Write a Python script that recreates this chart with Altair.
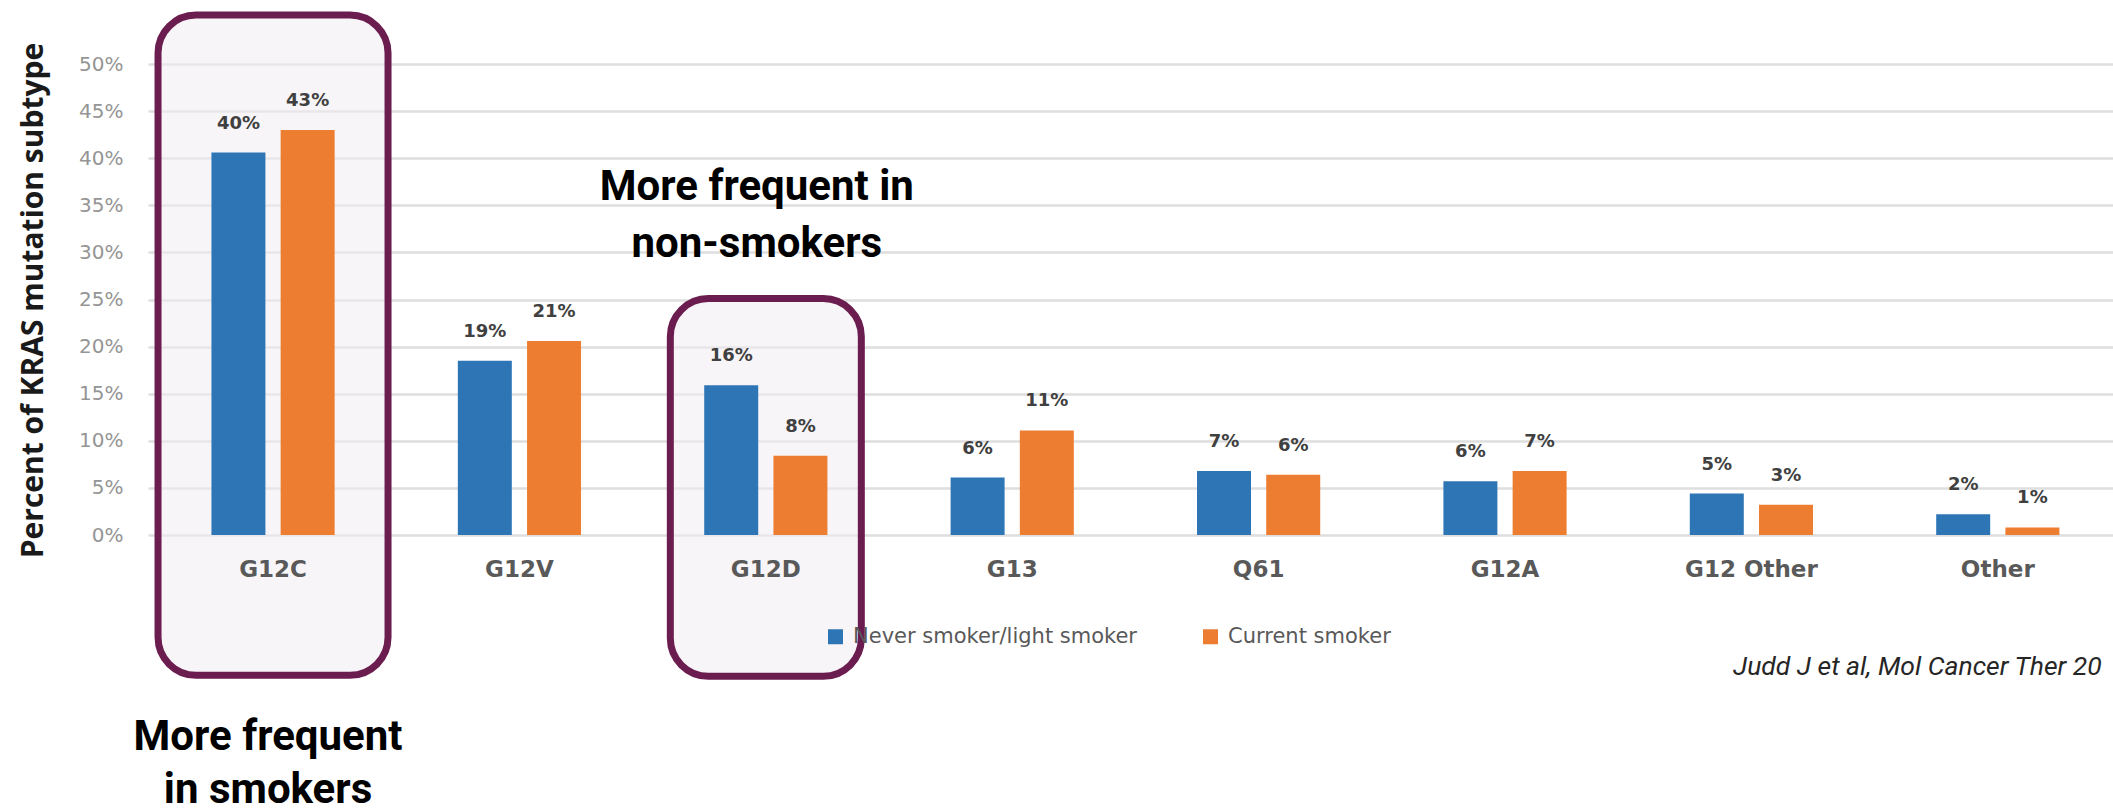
import altair as alt
import pandas as pd

# ---------------- data ----------------
categories = ["G12C", "G12V", "G12D", "G13", "Q61", "G12A", "G12 Other", "Other"]
series = ["Never smoker/light smoker", "Current smoker"]
never_vals = [40.6, 18.5, 15.9, 6.1, 6.8, 5.7, 4.4, 2.2]
current_vals = [43.0, 20.6, 8.4, 11.1, 6.4, 6.8, 3.2, 0.8]
never_labels = ["40%", "19%", "16%", "6%", "7%", "6%", "5%", "2%"]
current_labels = ["43%", "21%", "8%", "11%", "6%", "7%", "3%", "1%"]
y_ticks = [0, 5, 10, 15, 20, 25, 30, 35, 40, 45, 50]
series_colors = ["#2E75B6", "#ED7D31"]

y_title = "Percent of KRAS mutation subtype"
note_smokers = "More frequent\nin smokers"
note_nonsmokers = "More frequent in\nnon-smokers"
citation = "Judd J et al, Mol Cancer Ther 20"

rows = []
for i, c in enumerate(categories):
    rows.append({"cat": c, "group": series[0], "value": never_vals[i], "label": never_labels[i]})
    rows.append({"cat": c, "group": series[1], "value": current_vals[i], "label": current_labels[i]})
df = pd.DataFrame(rows)

# highlight boxes (category, top %, bottom %)
box1 = pd.DataFrame({"cat": ["G12C"], "top": [55.2], "bottom": [-14.9]})
box2 = pd.DataFrame({"cat": ["G12D"], "top": [25.1], "bottom": [-15.0]})
notes1 = pd.DataFrame({"cat": ["G12C"], "y": [-22.8], "t": [note_smokers]})
notes2 = pd.DataFrame({"cat": ["G12D"], "y": [35.56], "t": [note_nonsmokers]})
cite = pd.DataFrame({"t": [citation]})

# ---------------- encodings ----------------
xscale = alt.Scale(paddingInner=0.5, paddingOuter=0.2375, align=0.542)
xaxis = alt.Axis(title=None, domain=False, ticks=False, grid=False, labelPadding=23,
                 labelFont="DejaVu Sans", labelFontWeight="bold", labelFontSize=23,
                 labelColor="#595959", labelAngle=0, zindex=1)
yscale = alt.Scale(domain=[0, 50], nice=False, zero=True)
yaxis = alt.Axis(title=y_title, values=y_ticks, labelExpr="datum.value + '%'",
                 domain=False, ticks=False, labelPadding=25,
                 labelFont="DejaVu Sans", labelFontSize=20, labelColor="#959595",
                 gridColor="#dedede", gridWidth=2.5,
                 titleFont="Open Sans", titleFontWeight="bold", titleFontSize=30,
                 titleColor="#1a1a1a", titleAngle=270, titleAlign="center",
                 titleBaseline="alphabetic", titleX=-106, titleY=236)


def xe():
    return alt.X("cat:N", sort=categories, scale=xscale, axis=xaxis)


def ye(field):
    return alt.Y(field, scale=yscale, axis=yaxis)


xoff = alt.XOffset("group:N", sort=series,
                   scale=alt.Scale(paddingInner=0.22, paddingOuter=0))

box_style = dict(cornerRadius=38, fill="#f1edf0", fillOpacity=0.55,
                 stroke="#6B1D50", strokeWidth=7)

l_box1 = alt.Chart(box1).mark_bar(width=230, **box_style).encode(
    x=xe(), y=ye("top:Q"), y2="bottom:Q")
l_box2 = alt.Chart(box2).mark_bar(width=191, **box_style).encode(
    x=xe(), y=ye("top:Q"), y2="bottom:Q")

bars = alt.Chart(df).mark_bar().encode(
    x=xe(), xOffset=xoff, y=ye("value:Q"),
    color=alt.Color("group:N", sort=series,
                    scale=alt.Scale(domain=series, range=series_colors),
                    legend=alt.Legend(title=None, orient="none", direction="horizontal",
                                      legendX=677, legendY=562,
                                      symbolType="square", symbolSize=225,
                                      symbolStrokeWidth=0, labelOffset=7,
                                      labelFont="DejaVu Sans", labelFontSize=21,
                                      labelColor="#595959", columnPadding=62,
                                      labelLimit=400)))

bar_labels = alt.Chart(df).mark_text(
    font="DejaVu Sans", fontWeight="bold", fontSize=18, color="#404040",
    baseline="middle", dy=-29).encode(
    x=xe(), xOffset=xoff, y=ye("value:Q"), text="label:N")

note_font = dict(font="Roboto", fontWeight="bold", fontSize=42, color="#000000",
                 align="center", baseline="alphabetic", lineBreak="\n")

l_note1 = alt.Chart(notes1).mark_text(lineHeight=53, dx=-5, **note_font).encode(
    x=xe(), y=ye("y:Q"), text="t:N")
l_note2 = alt.Chart(notes2).mark_text(lineHeight=57, dx=-9, **note_font).encode(
    x=xe(), y=ye("y:Q"), text="t:N")

l_cite = alt.Chart(cite).mark_text(
    font="Roboto", fontStyle="italic", fontSize=26.5, color="#262626", align="left",
    baseline="alphabetic").encode(
    x=alt.value(1585), y=alt.value(611), text="t:N")

chart = alt.layer(l_box1, l_box2, bars, bar_labels, l_note1, l_note2, l_cite).properties(
    width=1965, height=471,
    autosize=alt.AutoSizeParams(type="none"),
    padding={"left": 148, "top": 64, "right": 0, "bottom": 277},
    background="white",
).configure_view(stroke=None)

chart.save("out.html", embed_options={"renderer": "svg", "actions": False})
